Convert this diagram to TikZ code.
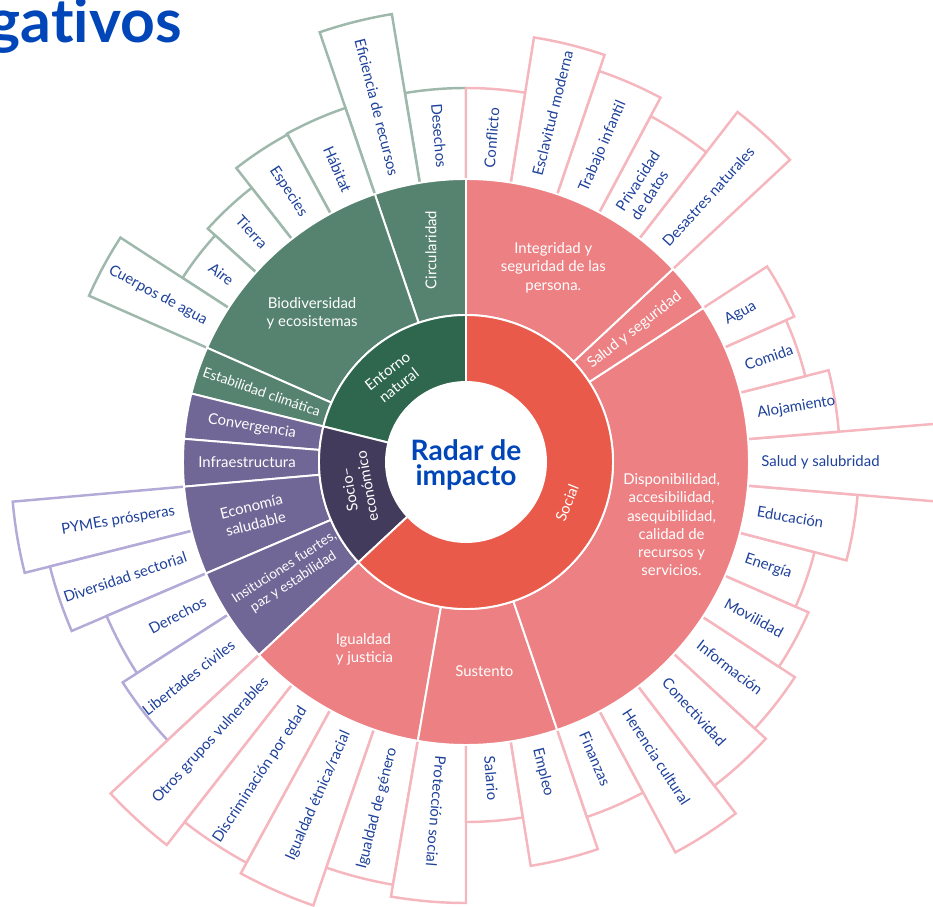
\documentclass[tikz,border=0pt]{standalone}
\usepackage{fontspec}
\setmainfont{Lato}
\newfontfamily\titlefont{Lato}[Ligatures=NoCommon]
\definecolor{natA}{HTML}{2E664E}
\definecolor{natB}{HTML}{56836F}
\definecolor{natC}{HTML}{9EB8AC}
\definecolor{socA}{HTML}{433B5B}
\definecolor{socB}{HTML}{706796}
\definecolor{socC}{HTML}{B4AAD8}
\definecolor{solA}{HTML}{EA5A4A}
\definecolor{solB}{HTML}{ED8083}
\definecolor{solC}{HTML}{F5B6BE}
\definecolor{labblue}{HTML}{1E419B}
\definecolor{titleblue}{HTML}{0046B9}
\newcommand{\radC}{283}
\newcommand{\radL}{295}
% filled ring segment: from, to, inner r, outer r, colour
\newcommand{\sunseg}[5]{\filldraw[seg, fill=#5] (#1:#3) -- (#1:#4) arc[start angle=#1, end angle=#2, radius=#4] -- (#2:#3) arc[start angle=#2, end angle=#1, radius=#3] -- cycle;}
% outer box: from, to, outer r, colour, name, text
\newcommand{\leafbox}[6]{%
  \filldraw[obox, draw=#4] (#1:\radC) -- (#1:#3) arc[start angle=#1, end angle=#2, radius=#3] -- (#2:\radC);
  \pgfmathsetmacro{\mida}{(#1+#2)/2}%
  \pgfmathtruncatemacro{\inw}{and(\mida>90,\mida<260)}%
  \ifnum\inw=1
    \node[olab, anchor=east, rotate=\mida-180] (#5) at (\mida:\radL) {#6};
  \else
    \node[olab, anchor=west, rotate=\mida] (#5) at (\mida:\radL) {#6};
  \fi}
\begin{document}
\begin{tikzpicture}[x=0.02cm, y=0.02cm,
  obox/.style={fill=white, line width=1.4pt, line join=miter},
  olab/.style={text=labblue, font=\fontsize{8.5}{10}\selectfont, inner sep=0pt, align=left},
  wlab/.style={text=white, font=\fontsize{8.5}{10.4}\selectfont, inner sep=0pt, align=center},
  seg/.style={draw=white, line width=1.1pt}]
\useasboundingbox (-466,-444) rectangle (467,462);
\clip (-466,-444) rectangle (467,462);
% title
\node[anchor=base east, inner sep=0pt, text=titleblue, font=\titlefont\fontsize{34.5}{35}\selectfont\bfseries] (title) at (-284,419) {negativos};
% outer boxes, entorno natural
\leafbox{90}{99.4}{374}{natC}{desechos}{Desechos}
\leafbox{99.4}{108.8}{454}{natC}{eficiencia}{Eficiencia de recursos}
\leafbox{108.8}{118.6}{374}{natC}{habitat}{Hábitat}
\leafbox{118.6}{128}{373}{natC}{especies}{Especies}
\leafbox{128}{137.9}{348}{natC}{tierra}{Tierra}
\leafbox{137.9}{147}{338}{natC}{aire}{Aire}
\leafbox{147}{156.2}{412}{natC}{agua}{Cuerpos de agua}
% outer boxes, socio-economico
\leafbox{185}{194.1}{455}{socC}{pymes}{PYMEs prósperas}
\leafbox{194.1}{203.2}{429}{socC}{diversidad}{Diversidad sectorial}
\leafbox{203.2}{212.7}{391}{socC}{derechos}{Derechos}
\leafbox{212.7}{223}{408}{socC}{libertades}{Libertades civiles}
% outer boxes, social
\leafbox{223}{232}{486}{solC}{otros}{Otros grupos vulnerables}
\leafbox{232}{241.3}{457}{solC}{edad}{Discriminación por edad}
\leafbox{241.3}{251}{469}{solC}{etnica}{Igualdad étnica/racial}
\leafbox{251}{260.2}{429}{solC}{genero}{Igualdad de género}
\leafbox{260.2}{270}{441}{solC}{proteccion}{Protección social}
\leafbox{270}{279.1}{360}{solC}{salario}{Salario}
\leafbox{279.1}{288.8}{409}{solC}{empleo}{Empleo}
\leafbox{288.8}{298.2}{375}{solC}{finanzas}{Finanzas}
\leafbox{298.2}{307.5}{443}{solC}{herencia}{Herencia cultural}
\leafbox{307.5}{317.3}{408}{solC}{conectividad}{Conectividad}
\leafbox{317.3}{326.8}{393}{solC}{informacion}{Información}
\leafbox{326.8}{336.3}{374}{solC}{movilidad}{Movilidad}
\leafbox{336.3}{345.5}{360}{solC}{energia}{Energía}
\leafbox{345.5}{355.2}{393}{solC}{educacion}{Educación}
\leafbox{355.2}{364.65}{560}{solC}{salubridad}{Salud y salubridad}
\leafbox{364.65}{374.2}{374}{solC}{alojamiento}{Alojamiento}
\leafbox{374.2}{383.9}{350}{solC}{comida}{Comida}
\leafbox{383.9}{393}{359}{solC}{aguapot}{Agua}
\leafbox{43}{52.2}{443}{solC}{desastres}{Desastres naturales}
\leafbox{52.2}{61.9}{392}{solC}{privacidad}{Privacidad\\de datos}
\leafbox{61.9}{71.2}{413}{solC}{trabajo}{Trabajo infantil}
\leafbox{71.2}{80.9}{430}{solC}{esclavitud}{Esclavitud moderna}
\leafbox{80.9}{90}{374}{solC}{conflicto}{Conflicto}
% second ring
\sunseg{90}{108.8}{147}{283}{natB}
\sunseg{108.8}{156.2}{147}{283}{natB}
\sunseg{156.2}{166}{147}{283}{natB}
\sunseg{166}{175.3}{147}{283}{socB}
\sunseg{175.3}{185}{147}{283}{socB}
\sunseg{185}{203.2}{147}{283}{socB}
\sunseg{203.2}{223}{147}{283}{socB}
\sunseg{223}{260.2}{147}{283}{solB}
\sunseg{260.2}{288.8}{147}{283}{solB}
\sunseg{288.8}{393}{147}{283}{solB}
\sunseg{393}{403}{147}{283}{solB}
\sunseg{403}{450}{147}{283}{solB}
% inner ring
\sunseg{90}{166}{80}{147}{natA}
\sunseg{166}{223}{80}{147}{socA}
\sunseg{223}{450}{80}{147}{solA}
% labels
\node[wlab, rotate=90] (circ) at (99.4:215) {Circularidad};
\node[wlab] (bio) at (136:214) {Biodiversidad\\y ecosistemas};
\node[wlab, rotate=-19, font=\fontsize{7.9}{9}\selectfont] (estab) at (161:216) {Estabilidad climática};
\node[wlab, rotate=-9.4] (conv) at (170.6:217) {Convergencia};
\node[wlab] (infra) at (180:219) {Infraestructura};
\node[wlab, rotate=14] (econ) at (194:219) {Economía\\saludable};
\node[wlab, rotate=33, font=\fontsize{7.8}{9.6}\selectfont] (inst) at (212.5:210) {Insituciones fuertes,\\paz y estabilidad};
\node[wlab, align=left] (igual) at (241.5:213) {Igualdad\\y justicia};
\node[wlab] (sust) at (275:210) {Sustento};
\node[wlab] (disp) at (-17:215) {Disponibilidad,\\accesibilidad,\\asequibilidad,\\calidad de\\recursos y\\servicios.};
\node[wlab, rotate=38] (salseg) at (38:214) {Salud y seguridad};
\node[wlab] (integ) at (65.8:213) {Integridad y\\seguridad de las\\persona.};
\node[wlab, rotate=38] (entorno) at (131:111) {Entorno\\natural};
\node[wlab, rotate=100] (socioec) at (193.5:111) {Socio–\\económico};
\node[wlab, rotate=68] (social) at (-22:109) {Social};
\node[text=titleblue, font=\fontsize{16}{14.6}\selectfont\bfseries, align=center] (radar) at (0,-3) {Radar de\\impacto};
\end{tikzpicture}
\end{document}
